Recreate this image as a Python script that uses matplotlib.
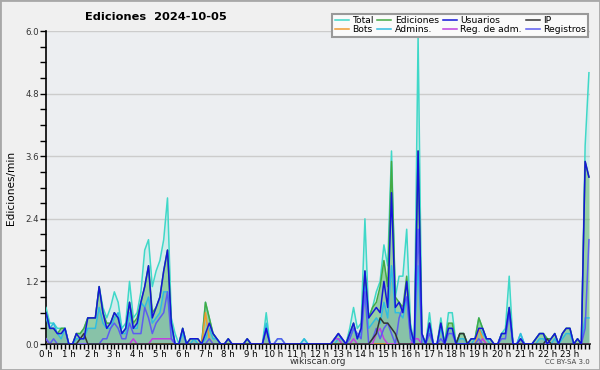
import matplotlib
matplotlib.use("Agg")
import matplotlib.pyplot as plt
import numpy as np
from matplotlib.ticker import MultipleLocator, FixedLocator
from matplotlib.lines import Line2D
from matplotlib.patches import Rectangle

hour_labels = [f"{h} h" for h in range(24)]
series_names = ["Total", "Bots", "Ediciones", "Admins.", "Usuarios", "Reg. de adm.", "IP", "Registros"]

# 10-minute samples, one row of 6 values per hour
total = [
    0.7, 0.4, 0.4, 0.3, 0.3, 0.3,
    0.0, 0.0, 0.2, 0.2, 0.3, 0.5,
    0.5, 0.5, 1.1, 0.7, 0.5, 0.7,
    1.0, 0.8, 0.3, 0.4, 1.2, 0.5,
    0.6, 1.0, 1.8, 2.0, 1.1, 1.4,
    1.6, 2.0, 2.8, 0.5, 0.2, 0.0,
    0.3, 0.0, 0.1, 0.1, 0.0, 0.0,
    0.8, 0.5, 0.2, 0.1, 0.0, 0.0,
    0.1, 0.0, 0.0, 0.0, 0.0, 0.1,
    0.0, 0.0, 0.0, 0.0, 0.6, 0.0,
    0.0, 0.1, 0.1, 0.0, 0.0, 0.0,
    0.0, 0.0, 0.1, 0.0, 0.0, 0.0,
    0.0, 0.0, 0.0, 0.0, 0.1, 0.2,
    0.1, 0.0, 0.3, 0.7, 0.3, 0.4,
    2.4, 0.5, 0.7, 1.0, 1.2, 1.9,
    1.5, 3.7, 0.9, 1.3, 1.3, 2.2,
    0.4, 0.0, 5.9, 0.2, 0.0, 0.6,
    0.0, 0.0, 0.5, 0.0, 0.6, 0.6,
    0.0, 0.2, 0.2, 0.0, 0.1, 0.1,
    0.5, 0.3, 0.1, 0.1, 0.0, 0.0,
    0.2, 0.3, 1.3, 0.0, 0.0, 0.2,
    0.0, 0.0, 0.0, 0.1, 0.2, 0.2,
    0.1, 0.1, 0.2, 0.0, 0.2, 0.3,
    0.3, 0.0, 0.1, 0.0, 3.8, 5.2,
]
ediciones = [
    0.6, 0.3, 0.3, 0.2, 0.3, 0.3,
    0.0, 0.0, 0.2, 0.2, 0.3, 0.5,
    0.5, 0.5, 1.1, 0.6, 0.4, 0.4,
    0.6, 0.5, 0.2, 0.3, 0.8, 0.4,
    0.5, 0.8, 1.1, 1.5, 0.6, 0.7,
    0.9, 1.4, 1.8, 0.4, 0.0, 0.0,
    0.3, 0.0, 0.1, 0.1, 0.1, 0.0,
    0.8, 0.5, 0.2, 0.1, 0.0, 0.0,
    0.1, 0.0, 0.0, 0.0, 0.0, 0.1,
    0.0, 0.0, 0.0, 0.0, 0.3, 0.0,
    0.0, 0.0, 0.0, 0.0, 0.0, 0.0,
    0.0, 0.0, 0.0, 0.0, 0.0, 0.0,
    0.0, 0.0, 0.0, 0.0, 0.1, 0.2,
    0.1, 0.0, 0.2, 0.4, 0.1, 0.3,
    1.4, 0.5, 0.7, 0.8, 1.1, 1.6,
    1.1, 3.5, 0.9, 0.8, 0.7, 1.3,
    0.3, 0.0, 3.7, 0.2, 0.0, 0.4,
    0.0, 0.0, 0.4, 0.0, 0.4, 0.4,
    0.0, 0.2, 0.2, 0.0, 0.1, 0.1,
    0.5, 0.3, 0.1, 0.1, 0.0, 0.0,
    0.2, 0.2, 0.7, 0.0, 0.0, 0.1,
    0.0, 0.0, 0.0, 0.1, 0.2, 0.2,
    0.1, 0.1, 0.2, 0.0, 0.2, 0.3,
    0.3, 0.0, 0.1, 0.0, 3.5, 3.2,
]
usuarios = [
    0.6, 0.3, 0.3, 0.2, 0.2, 0.3,
    0.0, 0.0, 0.2, 0.1, 0.1, 0.5,
    0.5, 0.5, 1.1, 0.6, 0.3, 0.4,
    0.6, 0.5, 0.2, 0.3, 0.8, 0.3,
    0.4, 0.8, 1.1, 1.5, 0.5, 0.7,
    0.9, 1.4, 1.8, 0.4, 0.0, 0.0,
    0.3, 0.0, 0.1, 0.1, 0.1, 0.0,
    0.2, 0.4, 0.2, 0.1, 0.0, 0.0,
    0.1, 0.0, 0.0, 0.0, 0.0, 0.1,
    0.0, 0.0, 0.0, 0.0, 0.3, 0.0,
    0.0, 0.0, 0.0, 0.0, 0.0, 0.0,
    0.0, 0.0, 0.0, 0.0, 0.0, 0.0,
    0.0, 0.0, 0.0, 0.0, 0.1, 0.2,
    0.1, 0.0, 0.2, 0.4, 0.1, 0.3,
    1.4, 0.5, 0.6, 0.7, 0.6, 1.2,
    0.7, 2.9, 0.7, 0.8, 0.6, 1.2,
    0.3, 0.0, 3.7, 0.2, 0.0, 0.4,
    0.0, 0.0, 0.4, 0.0, 0.3, 0.3,
    0.0, 0.0, 0.0, 0.0, 0.1, 0.1,
    0.3, 0.3, 0.1, 0.1, 0.0, 0.0,
    0.2, 0.2, 0.7, 0.0, 0.0, 0.1,
    0.0, 0.0, 0.0, 0.1, 0.2, 0.2,
    0.0, 0.1, 0.2, 0.0, 0.2, 0.3,
    0.3, 0.0, 0.1, 0.0, 3.5, 3.2,
]
ip = [0.0] * 144
for i, v in [(9, 0.1), (10, 0.2), (86, 0.1), (87, 0.2), (88, 0.5), (89, 0.4),
             (90, 0.4), (91, 0.3), (92, 0.2), (109, 0.2), (110, 0.2), (132, 0.1)]:
    ip[i] = v
bots = [0.0] * 144
for i, v in [(42, 0.6), (43, 0.1), (114, 0.3), (115, 0.1)]:
    bots[i] = v
registros = [
    0.1, 0.0, 0.1, 0.0, 0.0, 0.0,
    0.0, 0.0, 0.0, 0.0, 0.0, 0.0,
    0.0, 0.0, 0.0, 0.1, 0.1, 0.3,
    0.4, 0.3, 0.1, 0.1, 0.4, 0.2,
    0.2, 0.2, 0.7, 0.5, 0.2, 0.4,
    0.5, 0.6, 1.0, 0.1, 0.0, 0.0,
    0.0, 0.0, 0.0, 0.0, 0.0, 0.0,
    0.0, 0.1, 0.0, 0.0, 0.0, 0.0,
    0.0, 0.0, 0.0, 0.0, 0.0, 0.0,
    0.0, 0.0, 0.0, 0.0, 0.3, 0.0,
    0.0, 0.1, 0.1, 0.0, 0.0, 0.0,
    0.0, 0.0, 0.0, 0.0, 0.0, 0.0,
    0.0, 0.0, 0.0, 0.0, 0.1, 0.2,
    0.1, 0.0, 0.1, 0.3, 0.2, 0.1,
    1.0, 0.0, 0.1, 0.3, 0.1, 0.3,
    0.4, 0.2, 0.0, 0.5, 0.7, 0.9,
    0.1, 0.0, 2.2, 0.0, 0.0, 0.2,
    0.0, 0.0, 0.1, 0.0, 0.2, 0.2,
    0.0, 0.0, 0.0, 0.0, 0.0, 0.0,
    0.1, 0.0, 0.0, 0.0, 0.0, 0.0,
    0.1, 0.1, 0.6, 0.0, 0.0, 0.1,
    0.0, 0.0, 0.0, 0.0, 0.0, 0.0,
    0.0, 0.0, 0.0, 0.0, 0.0, 0.0,
    0.0, 0.0, 0.0, 0.0, 0.3, 2.0,
]
admins = [
    0.5, 0.3, 0.4, 0.2, 0.1, 0.3,
    0.0, 0.0, 0.1, 0.1, 0.1, 0.3,
    0.3, 0.3, 0.7, 0.4, 0.3, 0.3,
    0.5, 0.6, 0.2, 0.2, 0.6, 0.3,
    0.3, 0.8, 0.7, 0.9, 0.4, 0.5,
    0.6, 1.0, 1.0, 0.3, 0.0, 0.0,
    0.2, 0.0, 0.0, 0.1, 0.0, 0.0,
    0.1, 0.3, 0.1, 0.1, 0.0, 0.0,
    0.0, 0.0, 0.0, 0.0, 0.0, 0.0,
    0.0, 0.0, 0.0, 0.0, 0.4, 0.0,
    0.0, 0.0, 0.0, 0.0, 0.0, 0.0,
    0.0, 0.0, 0.1, 0.0, 0.0, 0.0,
    0.0, 0.0, 0.0, 0.0, 0.0, 0.1,
    0.1, 0.0, 0.1, 0.3, 0.1, 0.2,
    1.1, 0.3, 0.4, 0.5, 0.4, 0.8,
    0.5, 1.5, 0.6, 0.6, 0.5, 0.9,
    0.2, 0.0, 1.5, 0.1, 0.0, 0.3,
    0.0, 0.0, 0.3, 0.0, 0.3, 0.3,
    0.0, 0.1, 0.1, 0.0, 0.0, 0.1,
    0.3, 0.2, 0.1, 0.0, 0.0, 0.0,
    0.2, 0.2, 0.6, 0.0, 0.0, 0.2,
    0.0, 0.0, 0.0, 0.0, 0.1, 0.1,
    0.0, 0.0, 0.1, 0.0, 0.1, 0.2,
    0.2, 0.0, 0.0, 0.0, 0.5, 0.5,
]
reg_adm = [0.0] * 144
for i, v in [(0, 0.1), (23, 0.1), (28, 0.1), (29, 0.1), (30, 0.1), (31, 0.1), (32, 0.1),
             (33, 0.1), (76, 0.1), (77, 0.1), (81, 0.1), (87, 0.2), (88, 0.3), (89, 0.1),
             (97, 0.1), (98, 0.1), (115, 0.1)]:
    reg_adm[i] = v

x = np.arange(144) / 6.0

fig = plt.figure(figsize=(6, 3.7), dpi=100, facecolor="#f0f0f0")
ax = fig.add_axes([46 / 600, 26 / 370, 544 / 600, 313 / 370])
ax.set_facecolor("#eceef1")

colors = {
    "Total": "#3fd8c8",
    "Ediciones": "#44aa44",
    "Usuarios": "#1515d8",
    "IP": "#333333",
    "Bots": "#f09a30",
    "Admins.": "#30bce0",
    "Reg. de adm.": "#c040e0",
    "Registros": "#5c5cf0",
}

ax.fill_between(x, total, color="#40e0d0", alpha=0.15, lw=0, zorder=1)
ax.fill_between(x, ediciones, color="#44aa44", alpha=0.42, lw=0, zorder=2)
ax.fill_between(x, admins, color="#3070c0", alpha=0.13, lw=0, zorder=3)

lw = 1.1
ax.plot(x, total, color=colors["Total"], lw=lw, zorder=4)
ax.plot(x, ediciones, color=colors["Ediciones"], lw=lw, zorder=5)
ax.plot(x, admins, color=colors["Admins."], lw=lw, zorder=6)
ax.plot(x, bots, color=colors["Bots"], lw=lw, zorder=7)
ax.plot(x, reg_adm, color=colors["Reg. de adm."], lw=lw, zorder=7)
ax.plot(x, registros, color=colors["Registros"], lw=lw, zorder=8)
ax.plot(x, ip, color=colors["IP"], lw=lw, zorder=8)
ax.plot(x, usuarios, color=colors["Usuarios"], lw=lw, zorder=9)

ax.set_xlim(0, 23.88)
ax.set_ylim(0, 6.0)

ax.xaxis.set_major_locator(FixedLocator(range(24)))
ax.set_xticklabels(hour_labels)
ax.xaxis.set_minor_locator(MultipleLocator(1 / 6))
ax.yaxis.set_major_locator(MultipleLocator(1.2))
ax.yaxis.set_minor_locator(MultipleLocator(0.3))
ax.yaxis.set_major_formatter(matplotlib.ticker.FormatStrFormatter("%.1f"))
ax.tick_params(axis="x", which="both", direction="out", length=3.5, width=1, pad=0.5,
               labelsize=6.2, colors="black")
ax.tick_params(axis="y", which="both", direction="out", length=4, width=1, pad=1,
               labelsize=6.2, colors="black", labelcolor="#333333")
ax.grid(axis="y", which="major", color="#cccccc", lw=1)
ax.set_axisbelow(True)
for s in ["top", "right"]:
    ax.spines[s].set_visible(False)
for s in ["left", "bottom"]:
    ax.spines[s].set_linewidth(1.2)
    ax.spines[s].set_color("black")

handles = [Line2D([0], [0], color=colors[n], lw=1.1) for n in series_names]
leg = fig.legend(handles, series_names, ncol=4, loc="upper right",
                 bbox_to_anchor=(593 / 600, 1 - 9 / 370), fontsize=6.7,
                 handlelength=1.5, handletextpad=0.35, columnspacing=0.45,
                 labelspacing=0.05, borderpad=0.25, fancybox=False,
                 framealpha=1, facecolor="#fafafa", edgecolor="#999999")
leg.get_frame().set_linewidth(1.5)

fig.text(85 / 600, 1 - 17 / 370, "Ediciones  2024-10-05", fontsize=8.2,
         fontweight="bold", va="center", ha="left")
fig.text(11 / 600, 1 - 188 / 370, "Ediciones/min", fontsize=7.6, rotation=90,
         va="center", ha="center")
fig.text(318 / 600, 1 - 362 / 370, "wikiscan.org", fontsize=6.5, ha="center", va="center",
         color="#333333")
fig.text(590 / 600, 1 - 362 / 370, "CC BY-SA 3.0", fontsize=5, ha="right", va="center",
         color="#444444")

fig.patches.append(Rectangle((0, 0), 1, 1, transform=fig.transFigure, fill=False,
                             ec="#a8a8a8", lw=2))

fig.savefig("out.png", dpi=100, facecolor=fig.get_facecolor())
